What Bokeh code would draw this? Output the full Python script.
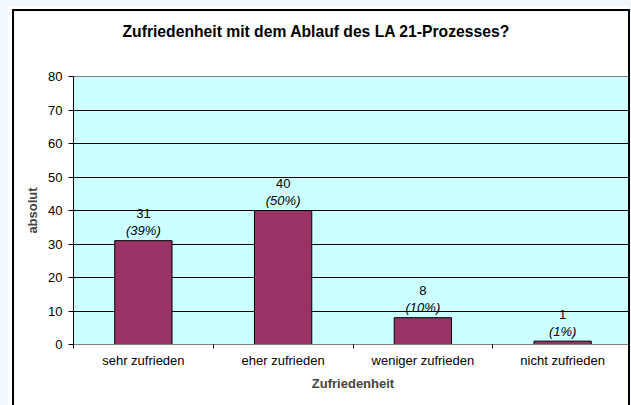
from bokeh.plotting import figure
from bokeh.models import ColumnDataSource, FixedTicker, Range1d, Title
from bokeh.core.properties import value
from bokeh.embed import file_html
from bokeh.resources import INLINE

categories = ["sehr zufrieden", "eher zufrieden", "weniger zufrieden", "nicht zufrieden"]
counts = [31, 40, 8, 1]
percent_labels = ["(39%)", "(50%)", "(10%)", "(1%)"]
y_ticks = [0, 10, 20, 30, 40, 50, 60, 70, 80]
title_text = "Zufriedenheit mit dem Ablauf des LA 21-Prozesses?"

FONT = "Liberation Sans"

xs = [i + 0.5 for i in range(len(categories))]
src = ColumnDataSource(dict(x=xs, top=counts, cnt=[str(c) for c in counts], pct=percent_labels))

p = figure(width=618, height=400, output_backend="svg", toolbar_location=None,
           x_range=Range1d(0, len(categories)), y_range=Range1d(0, 80),
           min_border_left=59, min_border_right=0, min_border_top=65, min_border_bottom=67)
p.margin = (9, 0, 0, 12)
p.styles = {"border": "2px solid #000", "box-shadow": "-2px -1px 0 2px white"}
p.background_fill_color = "#CCFFFF"
p.border_fill_color = "white"
p.outline_line_color = "#808080"
p.outline_line_width = 1

# spacer (closest to the frame), then the real title further out
p.add_layout(Title(text=" ", text_font=FONT, text_font_size="13px", standoff=15), "above")
p.add_layout(Title(text=title_text, align="left", offset=49,
                   text_font=FONT, text_font_size="15.7px", text_font_style="bold",
                   text_color="black", standoff=10), "above")

p.vbar(x="x", top="top", width=0.41, source=src, fill_color="#993366", line_color="black", line_width=1)
p.text(x="x", y="top", text="cnt", source=src, text_align="center", text_baseline="middle",
       y_offset=-27, text_font=value(FONT), text_font_size="13px", text_color="black")
p.text(x="x", y="top", text="pct", source=src, text_align="center", text_baseline="middle",
       y_offset=-10, text_font=value(FONT), text_font_size="13px", text_font_style="italic",
       text_color="black")

p.xgrid.visible = False
p.ygrid.ticker = FixedTicker(ticks=y_ticks)
p.ygrid.grid_line_color = "black"
p.ygrid.grid_line_alpha = 1

p.yaxis.ticker = FixedTicker(ticks=y_ticks)
p.yaxis.axis_label = "absolut"
p.yaxis.axis_label_text_font = FONT
p.yaxis.axis_label_text_font_size = "13px"
p.yaxis.axis_label_text_font_style = "bold"
p.yaxis.axis_label_standoff = 5
p.yaxis.major_label_text_font = FONT
p.yaxis.major_label_text_font_size = "13px"
p.yaxis.major_label_text_color = "black"
p.yaxis.major_tick_out = 5
p.yaxis.major_tick_in = 0
p.yaxis.minor_tick_out = 0
p.yaxis.minor_tick_in = 0
p.yaxis.major_label_standoff = 6
p.yaxis.axis_line_color = "black"
p.yaxis.major_tick_line_color = "black"

p.xaxis.ticker = FixedTicker(ticks=xs, minor_ticks=list(range(len(categories) + 1)))
p.xaxis.major_label_overrides = {x: c for x, c in zip(xs, categories)}
p.xaxis.axis_label = "Zufriedenheit"
p.xaxis.axis_label_text_font = FONT
p.xaxis.axis_label_text_font_size = "13px"
p.xaxis.axis_label_text_font_style = "bold"
p.xaxis.axis_label_standoff = 5
p.xaxis.major_label_text_font = FONT
p.xaxis.major_label_text_font_size = "13px"
p.xaxis.major_label_text_color = "black"
p.xaxis.major_tick_out = 0
p.xaxis.major_tick_in = 0
p.xaxis.minor_tick_out = 4
p.xaxis.minor_tick_in = 0
p.xaxis.minor_tick_line_color = "black"
p.xaxis.major_label_standoff = 4
p.xaxis.axis_line_color = "#808080"

html = file_html(p, INLINE)
html = html.replace("</head>", "<style>body{background:#F0F7FD;}</style></head>", 1)
open("out.html", "w").write(html)
